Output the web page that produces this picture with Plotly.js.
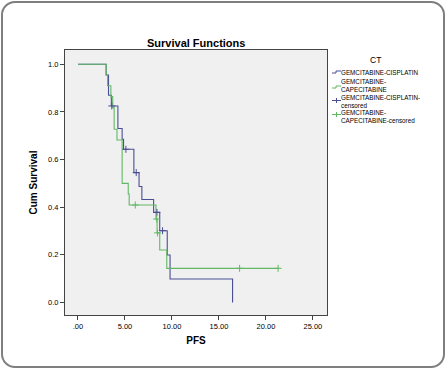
<!DOCTYPE html>
<html><head><meta charset="utf-8">
<script src="https://cdn.plot.ly/plotly-3.0.1.min.js"></script>
<style>
html,body{margin:0;padding:0;background:#fff;}
#wrap{position:relative;width:446px;height:369px;}
#chart{width:446px;height:369px;}
#frame{position:absolute;left:1px;top:1px;width:440px;height:363px;border:2px solid #7f7f7f;border-radius:14px;pointer-events:none;}
</style></head>
<body>
<div id="wrap"><div id="chart"></div><div id="frame"></div></div>
<script>
// Kaplan-Meier steps (time, cumulative survival)
var cisTime = [0, 3.0, 3.25, 3.55, 4.25, 4.7, 4.85, 5.95, 6.5, 6.8, 8.05, 8.7, 9.5, 9.8, 16.45];
var cisSurv = [1.0, 0.955, 0.87, 0.825, 0.73, 0.685, 0.643, 0.545, 0.487, 0.432, 0.378, 0.301, 0.199, 0.098, 0.0];
var cisCensTime = [3.6, 5.1, 6.2, 8.4, 9.0];
var cisCensSurv = [0.825, 0.643, 0.545, 0.378, 0.301];

var capTime = [0, 3.0, 3.15, 3.5, 3.7, 3.85, 4.15, 4.7, 5.35, 5.45, 8.3, 8.42, 8.7, 9.45];
var capSurv = [1.0, 0.955, 0.91, 0.864, 0.818, 0.727, 0.682, 0.5, 0.455, 0.409, 0.35, 0.292, 0.22, 0.143];
var capCensTime = [6.1, 8.38, 8.47, 17.2, 21.3];
var capCensSurv = [0.409, 0.35, 0.292, 0.143, 0.143];

var legendTitle = "CT";
var seriesNames = ["GEMCITABINE-CISPLATIN", "GEMCITABINE-<br>CAPECITABINE", "GEMCITABINE-CISPLATIN-<br>censored", "GEMCITABINE-<br>CAPECITABINE-censored"];
var xTickVals = [0, 5, 10, 15, 20, 25];
var xTickText = [".00", "5.00", "10.00", "15.00", "20.00", "25.00"];
var yTickVals = [0, 0.2, 0.4, 0.6, 0.8, 1.0];
var yTickText = ["0.0", "0.2", "0.4", "0.6", "0.8", "1.0"];

var blue = "#4a4f95", green = "#62b865";
var colors = [blue, green, blue, green];
var capLineX = capTime.concat([capCensTime[capCensTime.length-1]]);
var capLineY = capSurv.concat([capSurv[capSurv.length-1]]);

var traces = [
  {x: cisTime, y: cisSurv, mode: "lines", line: {shape: "hv", color: blue, width: 1.1}, name: seriesNames[0]},
  {x: capLineX, y: capLineY, mode: "lines", line: {shape: "hv", color: green, width: 1.1}, name: seriesNames[1]},
  {x: cisCensTime, y: cisCensSurv, mode: "markers", marker: {symbol: "cross-thin-open", size: 5, color: blue, line: {color: blue, width: 1}}, name: seriesNames[2]},
  {x: capCensTime, y: capCensSurv, mode: "markers", marker: {symbol: "cross-thin-open", size: 5, color: green, line: {color: green, width: 1}}, name: seriesNames[3]}
];

// custom compact legend (pixel layout -> paper coordinates)
var L = 65, R = 327, T = 50, B = 315;
function px(x){ return (x - L) / (R - L); }
function py(y){ return (B - y) / (B - T); }
var font = "Liberation Sans, Arial, sans-serif";
var narrow = "Liberation Sans Narrow, Arial Narrow, Liberation Sans, sans-serif";
var textY = [72.7, 85.5, 101.3, 116.3];
var symY = [72, 87, 100.5, 114.5];
var annotations = [{xref: "paper", yref: "paper", x: px(375), y: py(60), text: legendTitle, showarrow: false,
  xanchor: "center", yanchor: "middle", font: {size: 8.5, family: font}}];
var shapes = [];
for (var i = 0; i < seriesNames.length; i++) {
  annotations.push({xref: "paper", yref: "paper", x: px(340), y: py(textY[i]), text: seriesNames[i], showarrow: false,
    xanchor: "left", yanchor: "middle", align: "left", font: {size: 6.3, family: narrow}, borderpad: 0});
  var yy = symY[i];
  if (i < 2) {
    shapes.push({type: "path", xref: "paper", yref: "paper", line: {color: colors[i], width: 1},
      path: "M" + px(332) + "," + py(yy + 1) + " L" + px(336) + "," + py(yy + 1) + " L" + px(336) + "," + py(yy - 1) + " L" + px(341) + "," + py(yy - 1)});
  } else {
    shapes.push({type: "line", xref: "paper", yref: "paper", x0: px(332), x1: px(341), y0: py(yy), y1: py(yy), line: {color: colors[i], width: 1}});
    shapes.push({type: "line", xref: "paper", yref: "paper", x0: px(336.5), x1: px(336.5), y0: py(yy - 2.5), y1: py(yy + 2.5), line: {color: colors[i], width: 1}});
  }
}

var layout = {
  width: 446, height: 369,
  margin: {l: L, r: 446 - R, t: T, b: 369 - B, autoexpand: false},
  paper_bgcolor: "#ffffff", plot_bgcolor: "#f0f0f0",
  font: {family: font, color: "#000", size: 8},
  title: {text: "<b>Survival Functions</b>", font: {size: 11, family: font}, x: 0.44, xanchor: "center", y: 0.884, yanchor: "middle"},
  xaxis: {range: [-1.38, 26.5], tickvals: xTickVals, ticktext: xTickText, showgrid: false, zeroline: false,
    showline: true, mirror: true, linecolor: "#444", linewidth: 1, ticks: "outside", ticklen: 4, tickcolor: "#444",
    tickfont: {size: 7.5}, title: {text: "<b>PFS</b>", font: {size: 10}, standoff: 6}},
  yaxis: {range: [-0.053, 1.06], tickvals: yTickVals, ticktext: yTickText, showgrid: false, zeroline: false,
    showline: true, mirror: true, linecolor: "#444", linewidth: 1, ticks: "outside", ticklen: 4, tickcolor: "#444",
    tickfont: {size: 7.5}, title: {text: "<b>Cum Survival</b>", font: {size: 10}, standoff: 8}},
  showlegend: false,
  annotations: annotations,
  shapes: shapes
};
Plotly.newPlot("chart", traces, layout, {displayModeBar: false, staticPlot: true});
</script>
</body></html>
